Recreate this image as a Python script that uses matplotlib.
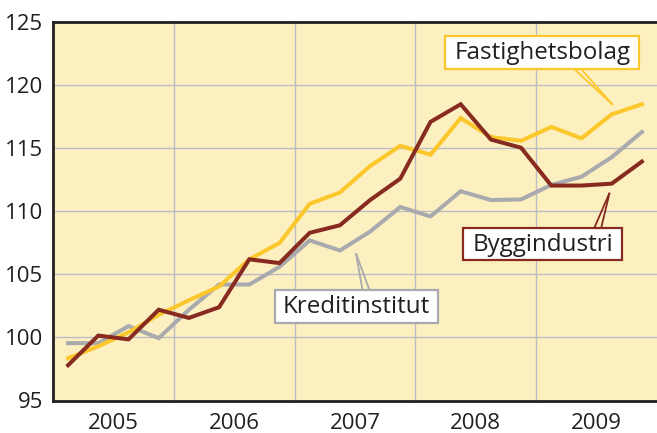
import matplotlib
matplotlib.use("Agg")
import matplotlib.pyplot as plt
import numpy as np

# Quarterly index values, 2005 Q1 - 2009 Q4
years = ["2005", "2006", "2007", "2008", "2009"]
fastighetsbolag = [98.35, 99.3, 100.4, 101.8, 102.95, 104.05, 106.2, 107.5,
                   110.6, 111.5, 113.6, 115.2, 114.5, 117.4, 115.9, 115.6,
                   116.7, 115.8, 117.7, 118.5]
kreditinstitut = [99.55, 99.55, 100.9, 99.95, 102.2, 104.2, 104.2, 105.6,
                  107.7, 106.9, 108.4, 110.35, 109.6, 111.6, 110.9, 110.95,
                  112.1, 112.75, 114.3, 116.3]
byggindustri = [97.8, 100.15, 99.85, 102.2, 101.55, 102.4, 106.2, 105.9,
                108.3, 108.9, 110.9, 112.6, 117.1, 118.5, 115.7, 115.05,
                112.05, 112.05, 112.2, 113.95]
yticks = [95, 100, 105, 110, 115, 120, 125]

BG = "#fdf0c0"
YEL = "#fcc72a"
GRAY = "#a9aaad"
RED = "#872a20"
DARK = "#231f20"
GRID = "#bcbcc4"

plt.rcParams['font.family'] = ['Open Sans', 'DejaVu Sans']

fig = plt.figure(figsize=(6.57, 4.33), dpi=100)
ax = fig.add_axes([53/657, 1-400.5/433, 1-53/657, (400.5-22.3)/433])
ax.set_facecolor(BG)

x = np.arange(len(fastighetsbolag)) + 0.5
ax.set_xlim(0, 20)
ax.set_ylim(95, 125)

for v in yticks[1:-1]:
    ax.axhline(v, color=GRID, lw=1.0, zorder=1)
for q in [4, 8, 12, 16]:
    ax.axvline(q, color=GRID, lw=1.0, zorder=1)

lw = 2.9
ax.plot(x, kreditinstitut, color=GRAY, lw=lw, zorder=3, solid_joinstyle='miter')
ax.plot(x, fastighetsbolag, color=YEL, lw=lw, zorder=4, solid_joinstyle='miter')
ax.plot(x, byggindustri, color=RED, lw=lw, zorder=5, solid_joinstyle='miter')

for s in ['left', 'top', 'bottom']:
    ax.spines[s].set_color(DARK)
    ax.spines[s].set_linewidth(2.0)
ax.spines['right'].set_visible(False)

ax.set_yticks(yticks)
ax.set_yticklabels([str(v) for v in yticks])
ax.set_xticks([2, 6, 10, 14, 18])
ax.set_xticklabels(years)
ax.tick_params(axis='both', length=0, labelsize=16, colors=DARK)
ax.tick_params(axis='y', pad=7)
ax.tick_params(axis='x', pad=9)

def label(text, cx, cy, color, x0, x1, y0, y1, base, tip):
    ax.add_patch(plt.Rectangle((x0, y1), x1 - x0, y0 - y1, facecolor='white',
                               edgecolor=color, lw=1.6, zorder=7))
    ax.text(cx, cy, text, ha='center', va='center', fontsize=17.4,
            color=DARK, zorder=8)
    for bx in base:
        ax.plot([bx[0], tip[0]], [bx[1], tip[1]], color=color, lw=1.3,
                zorder=6, solid_capstyle='butt')

label("Fastighetsbolag", 16.2, 122.55, YEL, 12.99, 19.40, 123.91, 121.29,
      [(17.26, 121.29), (17.49, 121.29)], (18.54, 118.44))
label("Byggindustri", 16.21, 107.35, RED, 13.59, 18.84, 108.67, 106.15,
      [(17.92, 108.67), (18.15, 108.67)], (18.43, 111.48))
label("Kreditinstitut", 10.05, 102.4, GRAY, 7.34, 12.76, 103.75, 101.15,
      [(10.25, 103.75), (10.48, 103.75)], (10.03, 106.69))

fig.savefig("out.png", dpi=100)
